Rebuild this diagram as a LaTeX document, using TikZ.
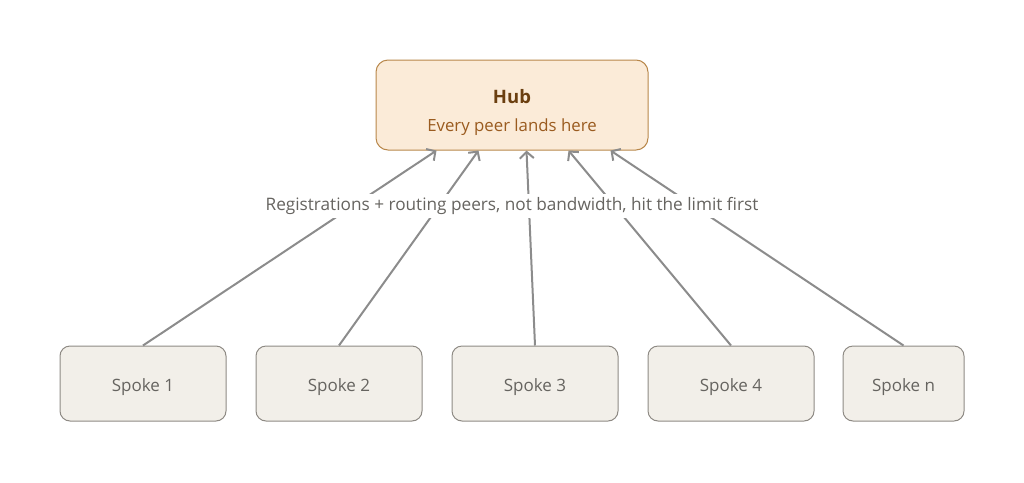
\documentclass[tikz,border=0pt]{standalone}
\usepackage{fontspec}
\setmainfont{Open Sans}
\usetikzlibrary{arrows.meta,positioning}

\definecolor{hubfill}{HTML}{FBEBD8}
\definecolor{hubline}{HTML}{B8874A}
\definecolor{hubtitle}{HTML}{6B3F10}
\definecolor{hubtext}{HTML}{9A5B1F}
\definecolor{spokefill}{HTML}{F2EFE9}
\definecolor{spokeline}{HTML}{8E8A84}
\definecolor{spoketext}{HTML}{666460}
\definecolor{wire}{HTML}{8C8C8C}

\tikzset{
  hubbox/.style={draw=hubline,fill=hubfill,rounded corners=12pt,line width=1pt,
    minimum width=272pt,minimum height=90pt},
  spokebox/.style={draw=spokeline,fill=spokefill,rounded corners=10pt,line width=1pt,
    minimum width=166pt,minimum height=75pt,text=spoketext,
    text height=16pt,text depth=0pt,font=\fontsize{17}{20}\selectfont},
  wirearrow/.style={draw=wire,line width=2pt,-{Straight Barb[length=6.5pt,width=14pt]}}
}

\begin{document}
\begin{tikzpicture}[x=1pt,y=-1pt]
    \useasboundingbox (0,0) rectangle (1024,482);
    \node [hubbox] (hub) at (512,105) {};
    \node [text=hubtitle,font=\fontsize{18.5}{22}\selectfont\bfseries] (hubname) at (512,97) {Hub};
    \node [text=hubtext,font=\fontsize{16.8}{20}\selectfont] (hubsub) at (512,127) {Every peer lands here};
    % spokes
    \foreach \i/\x/\t in {1/143/Spoke 1,2/339/Spoke 2,3/535/Spoke 3,4/731/Spoke 4}
      \node [spokebox] (s\i) at (\x,383.5) {\t};
    \node [spokebox,minimum width=121pt] (s5) at (903.5,383.5) {Spoke n};
    % arrow ends along the hub's lower edge
    \foreach \i/\dx in {1/61,2/103,3/151,4/193,5/235}
      \coordinate (h\i) at ([xshift=\dx pt]hub.south west);
    \foreach \i in {1,...,5}
      \draw [wirearrow] (s\i.north) -- (h\i);
    \node [fill=white,inner sep=3pt,text=spoketext,font=\fontsize{17.2}{20}\selectfont] (note) at (512,206)
      {Registrations + routing peers, not bandwidth, hit the limit first};
\end{tikzpicture}
\end{document}
